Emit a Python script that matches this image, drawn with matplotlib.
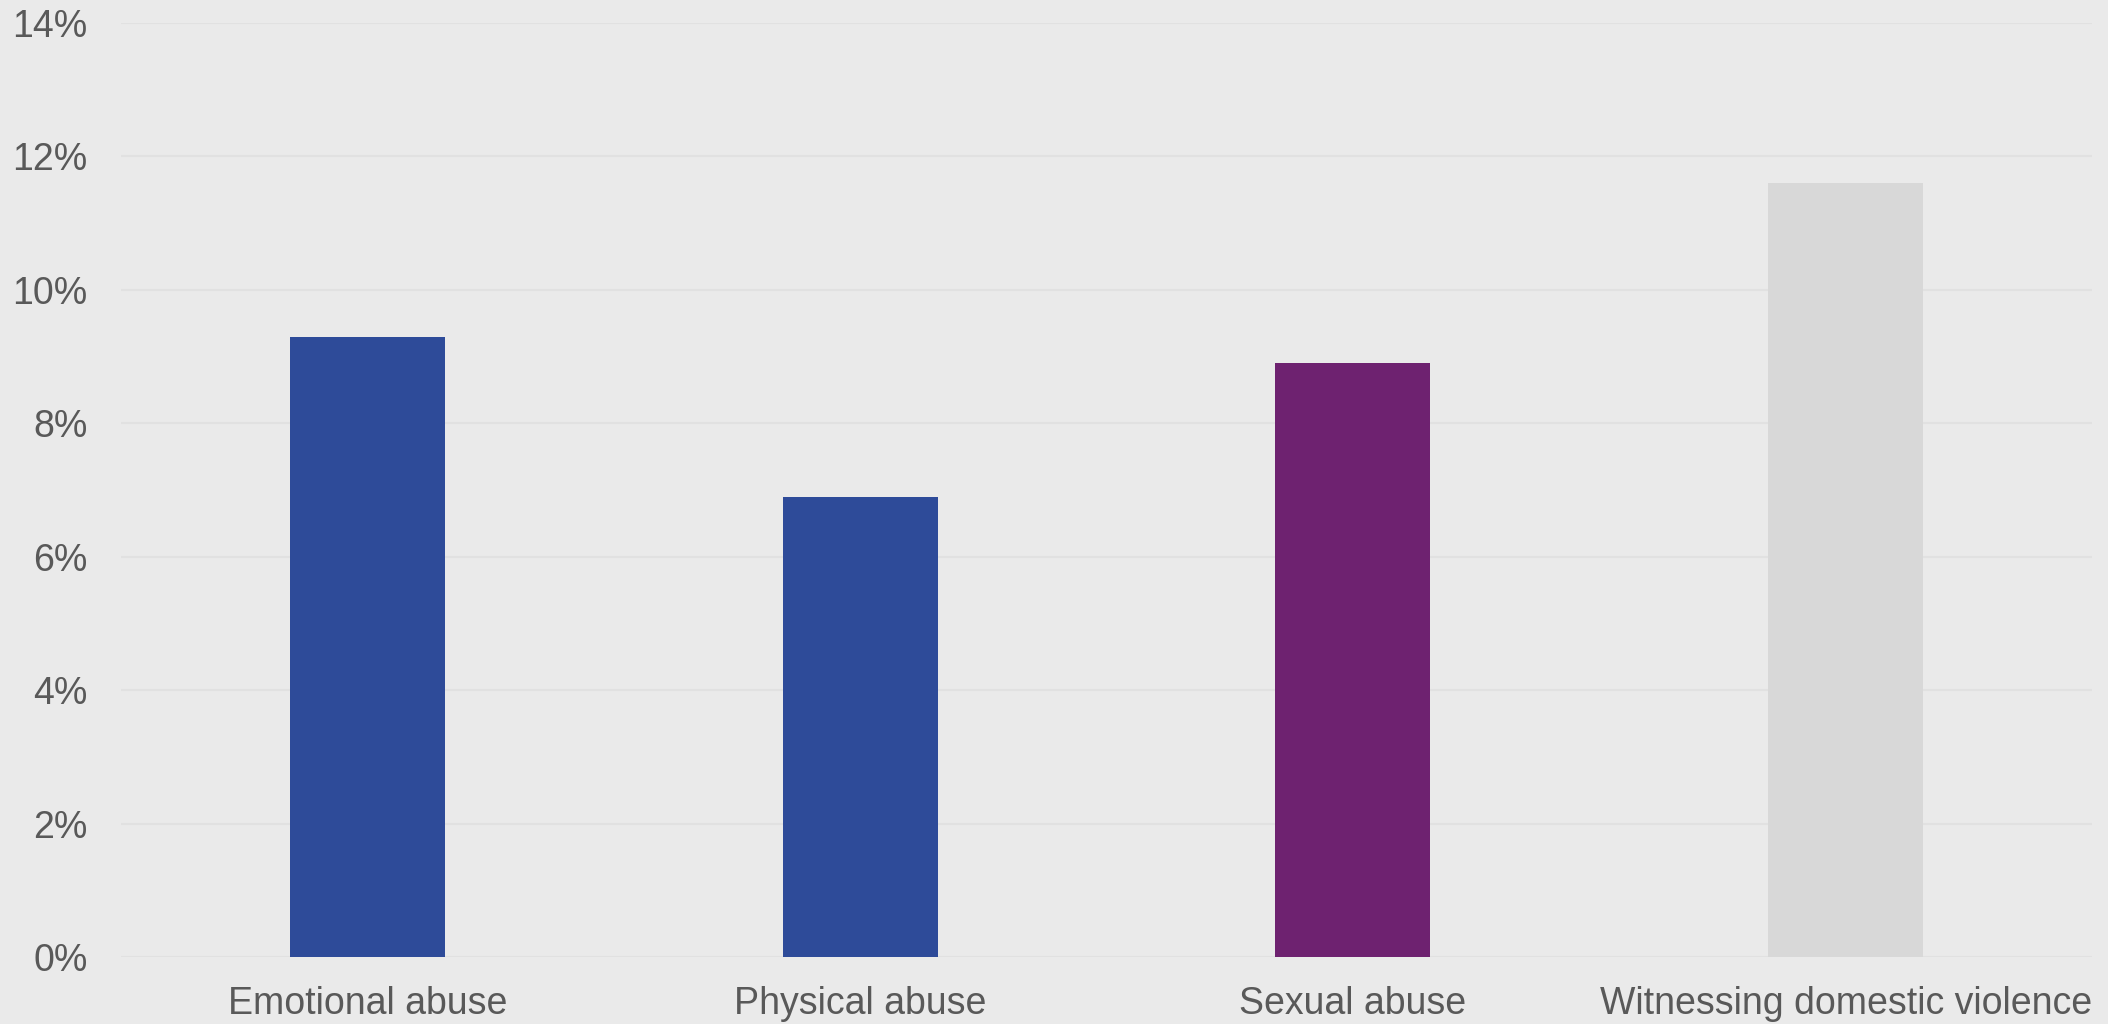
import matplotlib
matplotlib.use("Agg")
import matplotlib.pyplot as plt
from matplotlib.ticker import FuncFormatter

categories = ["Emotional abuse", "Physical abuse", "Sexual abuse", "Witnessing domestic violence"]
values = [9.3, 6.9, 8.9, 11.6]
colors = ["#2E4B99", "#2E4B99", "#6E2270", "#D8D8D8"]
yticks = [0, 2, 4, 6, 8, 10, 12, 14]

plt.rcParams['font.family'] = ['Liberation Sans', 'DejaVu Sans']

W, H = 2108, 1024
fig = plt.figure(figsize=(W / 100, H / 100), dpi=100)
bg = "#EAEAEA"
fig.patch.set_facecolor(bg)
left, right = 121 / W, 2092 / W
bottom, top = (H - 957) / H, (H - 23) / H
ax = fig.add_axes([left, bottom, right - left, top - bottom])
ax.set_facecolor(bg)

x = list(range(len(categories)))
ax.bar(x, values, width=0.315, color=colors, zorder=3)

ax.set_xlim(-0.5, len(categories) - 0.5)
ax.set_ylim(0, 14)
ax.set_yticks(yticks)
ax.yaxis.set_major_formatter(FuncFormatter(lambda v, p: f"{v:.0f}%"))
ax.set_xticks(x)
ax.set_xticklabels(categories)
ax.grid(axis='y', color="#E1E1E1", linewidth=1.5, zorder=0)
ax.tick_params(axis='both', length=0, labelsize=27, colors="#595959")
ax.tick_params(axis='y', pad=24)
ax.tick_params(axis='x', pad=21)
for s in ax.spines.values():
    s.set_visible(False)

fig.savefig("out.png", dpi=100, facecolor=bg)
